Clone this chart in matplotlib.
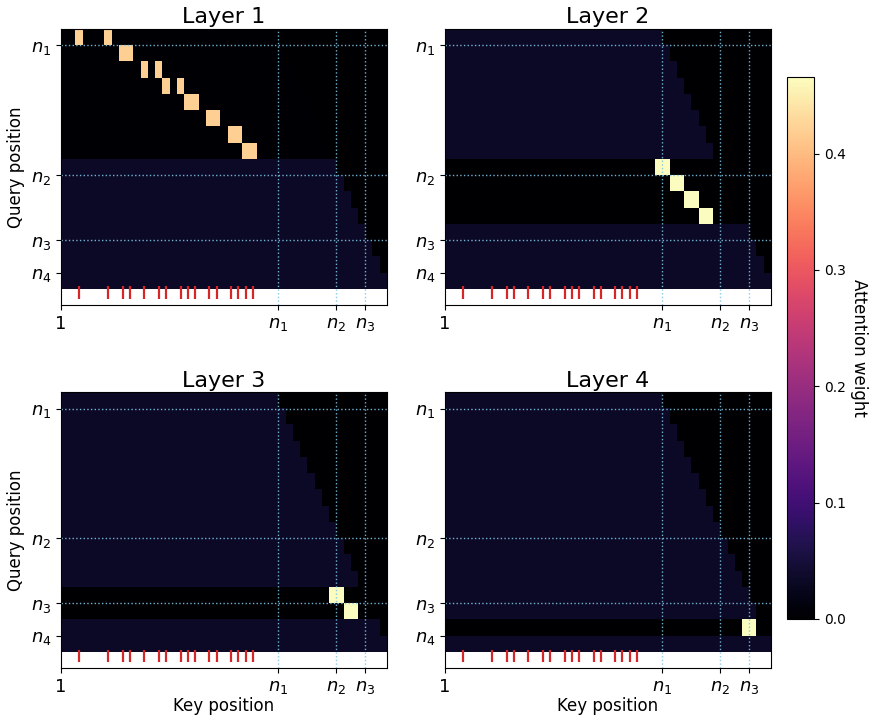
import matplotlib
matplotlib.use("Agg")
import matplotlib.pyplot as plt
import numpy as np

# key positions 1..45, query positions 30..45 (one row each)
n_keys = 45
q_first = 30
n_rows = 16

key_ticks = [1, 31, 39, 43]
key_labels = ["1", "$n_1$", "$n_2$", "$n_3$"]
query_ticks = [31, 39, 43, 45]
query_labels = ["$n_1$", "$n_2$", "$n_3$", "$n_4$"]

# red markers in the strip below the map (0-based key index)
marked_keys = [2, 6, 8, 9, 11, 13, 14, 16, 17, 18, 20, 21, 23, 24, 25, 26]

# background level per query row (spread weight)
bg_layer1 = [0.002, 0.002, 0.002, 0.002, 0.002, 0.002, 0.002, 0.002,
             0.033, 0.033, 0.033, 0.033, 0.033, 0.033, 0.033, 0.033]
bg_layer2 = [0.033, 0.033, 0.033, 0.033, 0.033, 0.033, 0.033, 0.033,
             0.001, 0.001, 0.001, 0.001, 0.033, 0.033, 0.033, 0.033]
bg_layer3 = [0.033, 0.033, 0.033, 0.033, 0.033, 0.033, 0.033, 0.033,
             0.033, 0.033, 0.033, 0.033, 0.001, 0.001, 0.033, 0.033]
bg_layer4 = [0.033, 0.033, 0.033, 0.033, 0.033, 0.033, 0.033, 0.033,
             0.033, 0.033, 0.033, 0.033, 0.033, 0.033, 0.001, 0.033]

# peaked cells: (query row, key index, weight)
peaks_layer1 = [(0, 2, 0.42), (0, 6, 0.42), (1, 8, 0.42), (1, 9, 0.42),
                (2, 11, 0.42), (2, 13, 0.42), (3, 14, 0.42), (3, 16, 0.42),
                (4, 17, 0.42), (4, 18, 0.42), (5, 20, 0.42), (5, 21, 0.42),
                (6, 23, 0.42), (6, 24, 0.42), (7, 25, 0.42), (7, 26, 0.42)]
peaks_layer2 = [(8, 29, 0.47), (8, 30, 0.47), (9, 31, 0.47), (9, 32, 0.47),
                (10, 33, 0.47), (10, 34, 0.47), (11, 35, 0.47), (11, 36, 0.47)]
peaks_layer3 = [(12, 37, 0.47), (12, 38, 0.47), (13, 39, 0.47), (13, 40, 0.47)]
peaks_layer4 = [(14, 41, 0.47), (14, 42, 0.47)]

layers = [("Layer 1", bg_layer1, peaks_layer1),
          ("Layer 2", bg_layer2, peaks_layer2),
          ("Layer 3", bg_layer3, peaks_layer3),
          ("Layer 4", bg_layer4, peaks_layer4)]

vmax = 0.466
line_col = "#7cc6e6"

fig = plt.figure(figsize=(8.69, 7.17), dpi=100)
boxes = [[0.0702, 0.5746, 0.3751, 0.3849], [0.5121, 0.5746, 0.3751, 0.3849],
         [0.0702, 0.0679, 0.3751, 0.3849], [0.5121, 0.0679, 0.3751, 0.3849]]

im = None
for i, (title, bg, peaks) in enumerate(layers):
    ax = fig.add_axes(boxes[i])
    mat = np.zeros((n_rows, n_keys))
    for r in range(n_rows):
        mat[r, :q_first + r] = bg[r]   # causal: row r sees keys up to q_first+r
    for r, c, w in peaks:
        mat[r, c] = w
    im = ax.imshow(mat, cmap="magma", vmin=0, vmax=vmax, aspect="auto",
                   interpolation="nearest",
                   extent=(1, n_keys + 1, q_first + n_rows, q_first))
    ax.set_facecolor("white")
    ax.set_xlim(1, n_keys + 1)
    ax.set_ylim(q_first + n_rows + 1, q_first)

    xs = [k + 1.5 for k in marked_keys]
    ax.vlines(xs, q_first + n_rows - 0.15, q_first + n_rows + 0.6,
              color="tab:red", lw=1.6)

    for v in key_ticks[1:]:
        ax.axvline(v, color=line_col, ls=":", lw=1, alpha=0.9)
    for v in query_ticks[:3]:
        ax.axhline(v, color=line_col, ls=":", lw=1, alpha=0.9)

    ax.set_xticks(key_ticks)
    ax.set_xticklabels(key_labels, fontsize=13)
    ax.set_yticks(query_ticks)
    ax.set_yticklabels(query_labels, fontsize=13)
    ax.set_title(title, fontsize=16, pad=4)
    if i % 2 == 0:
        ax.set_ylabel("Query position", fontsize=12)
    if i >= 2:
        ax.set_xlabel("Key position", fontsize=12, labelpad=1)

cax = fig.add_axes([0.9056, 0.1367, 0.0311, 0.7563])
cb = fig.colorbar(im, cax=cax)
cb.set_ticks([0.0, 0.1, 0.2, 0.3, 0.4])
cb.ax.tick_params(labelsize=10)
cb.set_label("Attention weight", rotation=270, fontsize=12, labelpad=16)

fig.savefig("out.png", dpi=100)
